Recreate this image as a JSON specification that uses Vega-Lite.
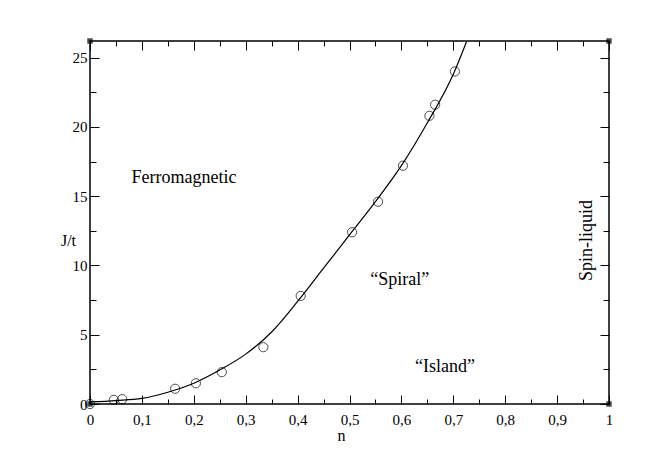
{
  "$schema": "https://vega.github.io/schema/vega-lite/v6.json",
  "width": 519,
  "height": 363,
  "autosize": "none",
  "padding": {"left": 90, "top": 41, "right": 46, "bottom": 59},
  "background": "white",
  "config": {
    "font": "Times New Roman, Liberation Serif, Times, serif",
    "view": {"stroke": "black", "strokeWidth": 1.5},
    "axis": {"grid": false, "domain": false, "tickColor": "black", "labelColor": "black", "titleColor": "black", "labelFont": "Times New Roman, Liberation Serif, Times, serif", "titleFont": "Times New Roman, Liberation Serif, Times, serif", "labelFontSize": 15, "titleFontSize": 16, "titleFontWeight": "normal", "labelOverlap": false, "labelBound": false, "labelFlush": false, "tickWidth": 1}
  },
  "datasets": {
    "curve": [
      {"n": 0, "J": 0.15}, {"n": 0.05, "J": 0.25}, {"n": 0.1, "J": 0.4}, {"n": 0.15, "J": 0.85},
      {"n": 0.2, "J": 1.5}, {"n": 0.25, "J": 2.45}, {"n": 0.3, "J": 3.6}, {"n": 0.35, "J": 5.2},
      {"n": 0.4, "J": 7.4}, {"n": 0.45, "J": 9.8}, {"n": 0.5, "J": 12.2}, {"n": 0.55, "J": 14.6},
      {"n": 0.6, "J": 17.2}, {"n": 0.65, "J": 20.3}, {"n": 0.7, "J": 23.8}, {"n": 0.726, "J": 26.2}
    ],
    "pts": [
      {"n": 0, "J": 0}, {"n": 0.046, "J": 0.3}, {"n": 0.062, "J": 0.35}, {"n": 0.164, "J": 1.1},
      {"n": 0.204, "J": 1.5}, {"n": 0.254, "J": 2.3}, {"n": 0.334, "J": 4.1}, {"n": 0.406, "J": 7.8},
      {"n": 0.505, "J": 12.4}, {"n": 0.555, "J": 14.6}, {"n": 0.603, "J": 17.2}, {"n": 0.654, "J": 20.8},
      {"n": 0.665, "J": 21.6}, {"n": 0.703, "J": 24.0}
    ],
    "labels": [
      {"n": 0.181, "J": 16.3, "text": "Ferromagnetic", "angle": 0},
      {"n": 0.597, "J": 8.95, "text": "“Spiral”", "angle": 0},
      {"n": 0.684, "J": 2.67, "text": "“Island”", "angle": 0},
      {"n": 0.957, "J": 11.8, "text": "Spin-liquid", "angle": 270}
    ],
    "corners": [
      {"n": 0, "J": 0}, {"n": 1, "J": 0}, {"n": 0, "J": 26.2}, {"n": 1, "J": 26.2}
    ]
  },
  "resolve": {"axis": {"x": "independent", "y": "independent"}},
  "layer": [
    {
      "data": {"name": "curve"},
      "mark": {"type": "line", "color": "black", "strokeWidth": 1.2, "clip": true, "interpolate": "monotone"},
      "encoding": {
        "x": {"field": "n", "type": "quantitative", "scale": {"domain": [0, 1], "nice": false},
          "axis": {"orient": "bottom", "title": "n", "titleX": 251, "titleY": 23, "titleAlign": "center",
            "values": [0, 0.05, 0.1, 0.15, 0.2, 0.25, 0.3, 0.35, 0.4, 0.45, 0.5, 0.55, 0.6, 0.65, 0.7, 0.75, 0.8, 0.85, 0.9, 0.95, 1],
            "tickSize": {"condition": {"test": "abs(round(datum.value*10) - datum.value*10) < 0.01", "value": -9}, "value": -5},
            "labelPadding": 17,
            "labelExpr": "abs(round(datum.value*10) - datum.value*10) < 0.01 ? replace(format(datum.value, '~g'), '.', ',') : ''"}},
        "y": {"field": "J", "type": "quantitative", "scale": {"domain": [0, 26.2], "nice": false},
          "axis": {"orient": "left", "title": "J/t", "titleAngle": 0, "titleX": -22, "titleY": 199, "titleAlign": "center", "titleBaseline": "middle",
            "values": [0, 2.5, 5, 7.5, 10, 12.5, 15, 17.5, 20, 22.5, 25],
            "tickSize": {"condition": {"test": "datum.value % 5 == 0", "value": -9}, "value": -6},
            "labelPadding": 12,
            "labelExpr": "datum.value % 5 == 0 ? datum.label : ''"}}
      }
    },
    {
      "data": {"name": "pts"},
      "mark": {"type": "point", "shape": "circle", "filled": false, "color": "black", "size": 85, "strokeWidth": 1},
      "encoding": {
        "x": {"field": "n", "type": "quantitative", "axis": null},
        "y": {"field": "J", "type": "quantitative", "axis": null}
      }
    },
    {
      "data": {"name": "labels"},
      "mark": {"type": "text", "font": "Times New Roman, Liberation Serif, Times, serif", "fontSize": 18, "color": "black", "align": "center", "baseline": "middle"},
      "encoding": {
        "x": {"field": "n", "type": "quantitative", "axis": null},
        "y": {"field": "J", "type": "quantitative", "axis": null},
        "text": {"field": "text"},
        "angle": {"field": "angle", "type": "quantitative", "scale": null}
      }
    },
    {
      "data": {"name": "corners"},
      "mark": {"type": "square", "color": "black", "size": 30, "filled": true},
      "encoding": {
        "x": {"field": "n", "type": "quantitative",
          "axis": {"orient": "top", "title": null, "labels": false,
            "values": [0, 0.05, 0.1, 0.15, 0.2, 0.25, 0.3, 0.35, 0.4, 0.45, 0.5, 0.55, 0.6, 0.65, 0.7, 0.75, 0.8, 0.85, 0.9, 0.95, 1],
            "tickSize": {"condition": {"test": "abs(round(datum.value*10) - datum.value*10) < 0.01", "value": -9}, "value": -5}}},
        "y": {"field": "J", "type": "quantitative",
          "axis": {"orient": "right", "title": null, "labels": false,
            "values": [0, 2.5, 5, 7.5, 10, 12.5, 15, 17.5, 20, 22.5, 25],
            "tickSize": {"condition": {"test": "datum.value % 5 == 0", "value": -9}, "value": -6}}}
      }
    }
  ]
}
